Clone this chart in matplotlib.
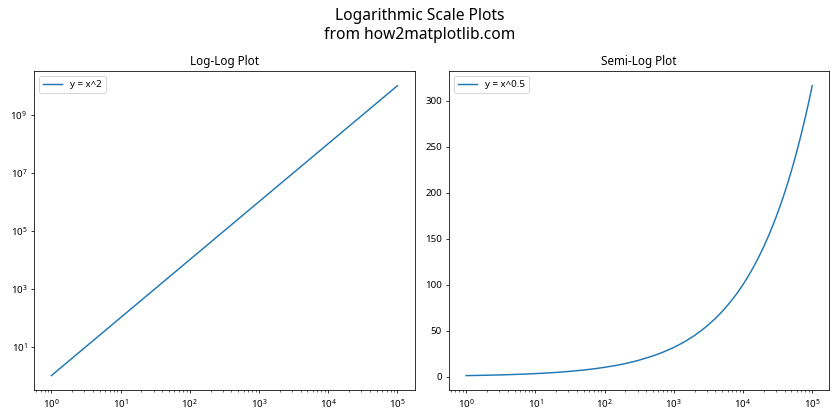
import matplotlib.pyplot as plt

plt.rcParams['font.family'] = ['Noto Sans', 'DejaVu Sans']

#  log-log series, read at each decade
x_loglog = [1, 10, 100, 1000, 10000, 100000]
y_loglog = [1, 100, 1e4, 1e6, 1e8, 1e10]

#  semi-log series
x_semilog = [1, 1.5, 2, 3, 5, 7, 10, 15, 20, 30, 50, 70, 100, 150, 200, 300, 500, 700,
             1000, 1250, 1500, 2000, 2500, 3000, 4000, 5000, 6000, 7000, 8000, 9000, 10000,
             12000, 14000, 16000, 18000, 20000, 23000, 26000, 30000, 34000, 38000, 42000,
             46000, 50000, 55000, 60000, 65000, 70000, 75000, 80000, 85000, 90000, 95000, 100000]
y_semilog = [1, 1.22, 1.41, 1.73, 2.24, 2.65, 3.16, 3.87, 4.47, 5.48, 7.07, 8.37, 10, 12.2, 14.1,
             17.3, 22.4, 26.5, 31.6, 35.4, 38.7, 44.7, 50.0, 54.8, 63.2, 70.7, 77.5, 83.7, 89.4,
             94.9, 100, 109.5, 118.3, 126.5, 134.2, 141.4, 151.7, 161.2, 173.2, 184.4, 194.9,
             204.9, 214.5, 223.6, 234.5, 244.9, 255.0, 264.6, 273.9, 282.8, 291.5, 300.0, 308.2, 316.2]

fig, (ax1, ax2) = plt.subplots(1, 2, figsize=(12, 6), dpi=70)

ax1.loglog(x_loglog, y_loglog, label='y = x^2')
ax1.set_title('Log-Log Plot')
ax1.legend(loc='upper left')

ax2.semilogx(x_semilog, y_semilog, label='y = x^0.5')
ax2.set_title('Semi-Log Plot')
ax2.legend(loc='upper left')

fig.suptitle('Logarithmic Scale Plots\nfrom how2matplotlib.com', fontsize=16)
plt.tight_layout()
plt.savefig('out.png')
